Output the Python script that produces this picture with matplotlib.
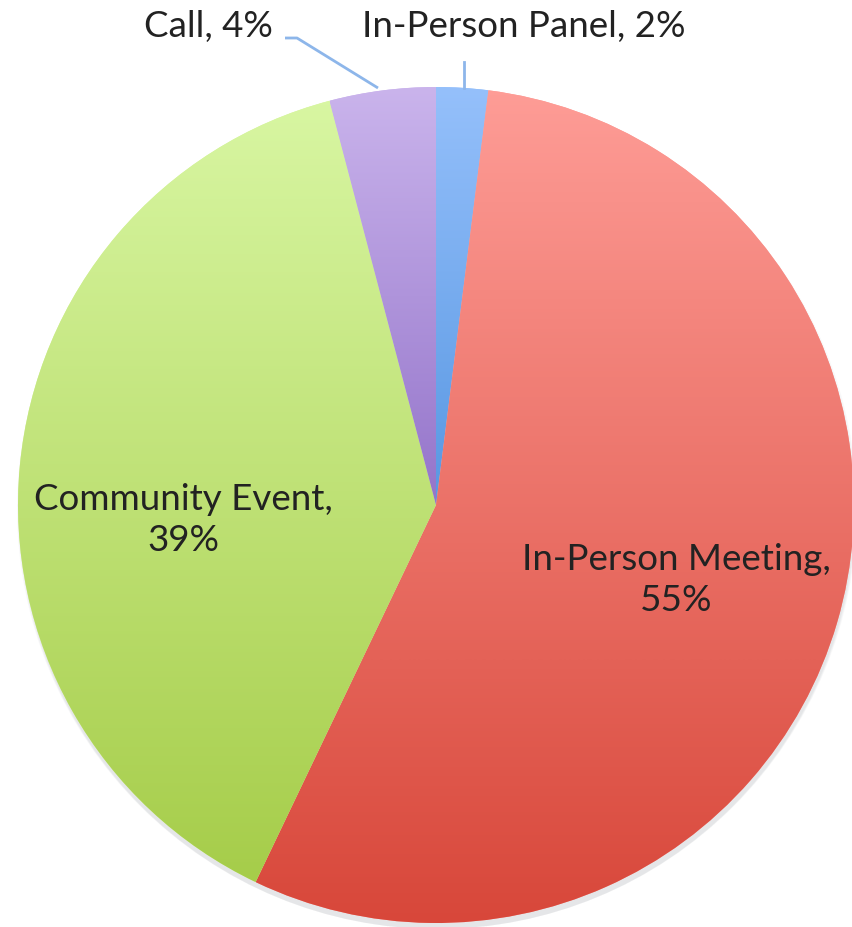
import numpy as np
import matplotlib
matplotlib.use("Agg")
import matplotlib.pyplot as plt
from matplotlib.colors import LinearSegmentedColormap

# ---- data ----
categories = ["In-Person Panel", "In-Person Meeting", "Community Event", "Call"]
values = [2.0, 55.1, 38.8, 4.1]
labels_pct = ["2%", "55%", "39%", "4%"]
top_colors = ["#95c0fb", "#fe9c96", "#d8f6a2", "#cab4ec"]
bottom_colors = ["#5897e2", "#d8473a", "#a6cd4a", "#9474ca"]

W, H = 853, 927
fig = plt.figure(figsize=(W / 100, H / 100), dpi=100)
ax = fig.add_axes([0, 0, 1, 1])

cx, cy, R = 436, H - 505, 418

# soft shadow
for i, a in enumerate([0.05, 0.05, 0.05, 0.05]):
    sh = plt.Circle((cx + 1, cy - 4 - i), R + 2 - i, color="#808890", alpha=a, lw=0)
    ax.add_patch(sh)

wedges, _ = ax.pie(values, startangle=90, counterclock=False, center=(cx, cy),
                   radius=R, colors=top_colors, wedgeprops=dict(linewidth=0))

for w, ct, cb in zip(wedges, top_colors, bottom_colors):
    path = w.get_path()
    verts = w.get_transform().transform(path.vertices)
    verts = ax.transData.inverted().transform(verts)
    ymin, ymax = verts[:, 1].min(), verts[:, 1].max()
    xmin, xmax = verts[:, 0].min(), verts[:, 0].max()
    cmap = LinearSegmentedColormap.from_list("g", [cb, ct])
    grad = np.linspace(1, 0, 256).reshape(-1, 1)
    im = ax.imshow(grad, cmap=cmap, extent=(xmin, xmax, ymin, ymax),
                   aspect="auto", origin="upper", zorder=2, interpolation="bilinear")
    im.set_clip_path(w)

ax.set_xlim(0, W)
ax.set_ylim(0, H)
ax.set_aspect("equal")
ax.axis("off")

font = dict(family=["Lato", "DejaVu Sans"], fontsize=26.5, color="#222222")
lc = "#8db6ea"

# top labels
ax.text(273, H - 26, f"{categories[3]}, {labels_pct[3]}", ha="right", va="center", zorder=5, **font)
ax.text(362, H - 26, f"{categories[0]}, {labels_pct[0]}", ha="left", va="center", zorder=5, **font)
# leader lines
ax.plot([285, 297, 378], [H - 38, H - 38, H - 88], color=lc, lw=2, zorder=4, solid_capstyle="butt")
ax.plot([464, 464], [H - 62, H - 88], color=lc, lw=2, zorder=4)

# inside labels
ax.text(183, H - 520, f"{categories[2]},\n{labels_pct[2]}", ha="center", va="center",
        linespacing=1.3, zorder=5, **font)
ax.text(676, H - 580, f"{categories[1]},\n{labels_pct[1]}", ha="center", va="center",
        linespacing=1.3, zorder=5, **font)

fig.savefig("out.png", dpi=100, facecolor="white")
